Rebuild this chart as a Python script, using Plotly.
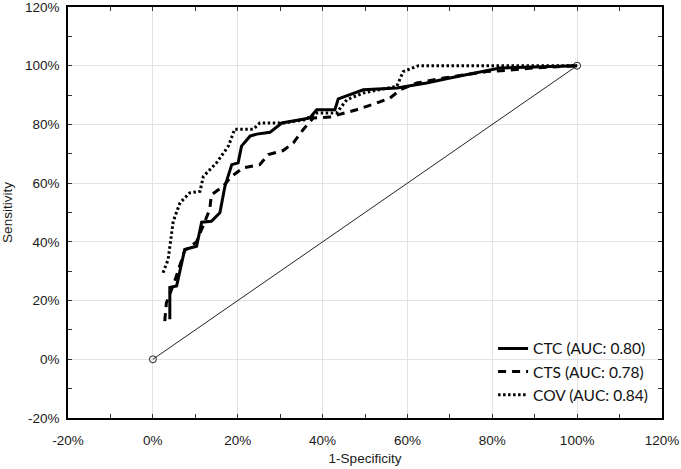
import plotly.graph_objects as go

# 1-Specificity (%) and Sensitivity (%)
ctc_fpr = [4.0, 4.0, 5.6, 7.5, 10.3, 11.5, 13.8, 15.8, 17.0, 18.6, 20.1, 20.9, 22.9, 24.5, 27.6, 30.4, 34.7, 37.0, 38.6, 42.9, 43.7, 49.6, 57.5, 59.8, 64.5, 70.0, 76.3, 81.8, 100.0]
ctc_tpr = [13.6, 24.5, 25.0, 37.4, 38.5, 46.7, 47.0, 49.9, 59.0, 66.3, 66.9, 72.6, 76.0, 76.7, 77.3, 80.5, 81.6, 82.2, 85.0, 85.0, 88.7, 91.8, 92.4, 93.0, 94.1, 95.8, 97.5, 99.2, 100.0]

cts_fpr = [2.8, 3.2, 5.0, 7.5, 10.3, 12.0, 13.4, 13.8, 16.6, 18.6, 21.3, 25.2, 27.2, 30.7, 33.1, 35.4, 37.8, 41.7, 48.0, 52.8, 55.9, 58.3, 62.2, 68.5, 73.2, 78.7, 85.0, 89.6, 100.0]
cts_tpr = [13.0, 19.3, 26.0, 37.0, 40.0, 46.0, 51.0, 56.0, 59.0, 62.4, 65.2, 66.3, 69.7, 71.1, 73.7, 78.2, 82.2, 82.5, 85.0, 87.3, 89.0, 91.8, 94.1, 95.8, 96.9, 98.0, 98.6, 99.2, 100.0]

cov_fpr = [2.4, 3.6, 4.8, 6.4, 8.7, 11.1, 11.9, 15.0, 17.8, 19.3, 23.7, 25.2, 30.7, 35.8, 38.6, 43.3, 45.7, 49.6, 57.5, 59.0, 62.6, 100.0]
cov_tpr = [29.5, 34.0, 47.0, 53.3, 56.7, 57.2, 62.3, 66.9, 72.6, 78.4, 78.4, 80.5, 80.5, 81.6, 83.9, 83.9, 88.4, 90.7, 93.0, 98.0, 100.0, 100.0]

ref_x = [0, 100]
ref_y = [0, 100]

series_names = ["CTC (AUC: 0.80)", "CTS (AUC: 0.78)", "COV (AUC: 0.84)"]

tick_vals = [-20, 0, 20, 40, 60, 80, 100, 120]
tick_text = ["-20%", "0%", "20%", "40%", "60%", "80%", "100%", "120%"]

font_family = "Liberation Sans, Arial"

fig = go.Figure()
fig.add_trace(go.Scatter(x=ref_x, y=ref_y, mode="lines+markers", showlegend=False,
                         line=dict(color="#222", width=1),
                         marker=dict(symbol="circle-open", size=7, color="#222", line=dict(width=1))))
fig.add_trace(go.Scatter(x=ctc_fpr, y=ctc_tpr, mode="lines", name=series_names[0],
                         line=dict(color="black", width=3)))
fig.add_trace(go.Scatter(x=cts_fpr, y=cts_tpr, mode="lines", name=series_names[1],
                         line=dict(color="black", width=3, dash="8px,6px")))
fig.add_trace(go.Scatter(x=cov_fpr, y=cov_tpr, mode="lines", name=series_names[2],
                         line=dict(color="black", width=3, dash="2.5px,2.5px")))

axis_common = dict(
    showline=True, linecolor="black", linewidth=1.5, mirror="ticks",
    ticks="inside", ticklen=4, tickcolor="#333", tickwidth=1,
    showgrid=True, gridcolor="#e3e3e3", gridwidth=1, zeroline=False,
    tickvals=tick_vals, ticktext=tick_text, automargin=False,
    ticklabeloverflow="allow",
    tickfont=dict(family=font_family, size=13.5, color="#1a1a1a"),
    minor=dict(ticks="inside", ticklen=4, dtick=10, tickcolor="#333", showgrid=False),
)

fig.update_layout(
    width=681, height=469,
    margin=dict(l=68, r=19, t=7, b=51),
    paper_bgcolor="white", plot_bgcolor="white",
    xaxis=dict(range=[-20, 120], ticklabelstandoff=9,
               title=dict(text="1-Specificity", standoff=7,
                          font=dict(family=font_family, size=13.5, color="#1a1a1a")), **axis_common),
    yaxis=dict(range=[-20, 120], ticklabelstandoff=4,
               title=dict(text="Sensitivity", standoff=12,
                          font=dict(family=font_family, size=13.5, color="#1a1a1a")), **axis_common),
    legend=dict(x=0.985, y=0.015, xanchor="right", yanchor="bottom",
                bgcolor="rgba(0,0,0,0)", font=dict(family="Lato, Calibri, sans-serif", size=15.5, color="#111"),
                tracegroupgap=0, itemwidth=30),
)
fig.write_html("out.html", config={"displayModeBar": False},
               post_script="document.body.style.margin='0';document.body.style.padding='0';")
